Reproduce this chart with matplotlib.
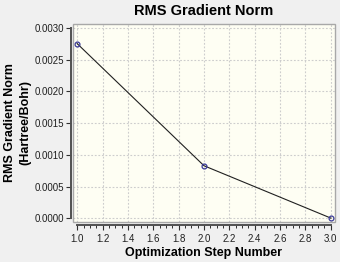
import matplotlib
matplotlib.use("Agg")
import matplotlib.pyplot as plt
from matplotlib.patches import Rectangle
from matplotlib.ticker import MultipleLocator, FormatStrFormatter

# values
steps = [1, 2, 3]
rms_grad = [0.002755, 0.000828, 0.000002]

title = "RMS Gradient Norm"
xlabel = "Optimization Step Number"
ylabel = "RMS Gradient Norm\n(Hartree/Bohr)"

plt.rcParams["font.family"] = ["Liberation Sans", "DejaVu Sans"]

fig = plt.figure(figsize=(3.4, 2.62), dpi=100, facecolor="#f0f0f0")
ax = fig.add_axes([0.215, 0.154, 0.77, 0.756], facecolor="#fefef3")

ax.plot(steps, rms_grad, color="#202020", lw=0.8, marker="o", ms=3.5,
        mfc="none", mec="#3a3a99", mew=0.9, zorder=3)

ax.set_xlim(0.968, 3.032)
ax.set_ylim(-0.000054, 0.003071)

ax.xaxis.set_major_locator(MultipleLocator(0.2))
ax.xaxis.set_minor_locator(MultipleLocator(0.05))
ax.xaxis.set_major_formatter(FormatStrFormatter("%.1f"))
ax.yaxis.set_major_locator(MultipleLocator(0.0005))
ax.yaxis.set_major_formatter(FormatStrFormatter("%.4f"))

ax.grid(True, which="major", color="#cdcdcd", lw=0.8, ls=(0, (1.6, 1.6)))
ax.set_axisbelow(True)

# offset axis lines like the original application
ax.spines["top"].set_visible(False)
ax.spines["right"].set_visible(False)
ax.spines["left"].set_position(("outward", 1.8))
ax.spines["bottom"].set_position(("outward", 2.2))
ax.spines["left"].set_bounds(0, 0.003)
ax.spines["bottom"].set_bounds(1.0, 3.0)
for side in ("left", "bottom"):
    ax.spines[side].set_color("#505050")
    ax.spines[side].set_linewidth(1.4)

ax.add_patch(Rectangle((0, 0), 1, 1, transform=ax.transAxes, fill=False,
                       edgecolor="#a8a8a8", lw=1.0, clip_on=False, zorder=4))

ax.tick_params(axis="both", which="major", labelsize=7, color="#303030",
               labelcolor="#202020", length=3.5, width=0.8)
ax.tick_params(axis="y", which="major", pad=1.5)
ax.tick_params(axis="x", which="major", pad=3)
ax.tick_params(axis="x", which="minor", color="#303030", length=2.5, width=0.7)

ax.set_title(title, fontsize=10.5, fontweight="bold", pad=6)
ax.set_xlabel(xlabel, fontsize=9, fontweight="bold", labelpad=2.5)
ax.set_ylabel(ylabel, fontsize=9, fontweight="bold", linespacing=1.4)
ax.yaxis.set_label_coords(-0.158, 0.5)

fig.savefig("out.png", dpi=100, facecolor=fig.get_facecolor())
